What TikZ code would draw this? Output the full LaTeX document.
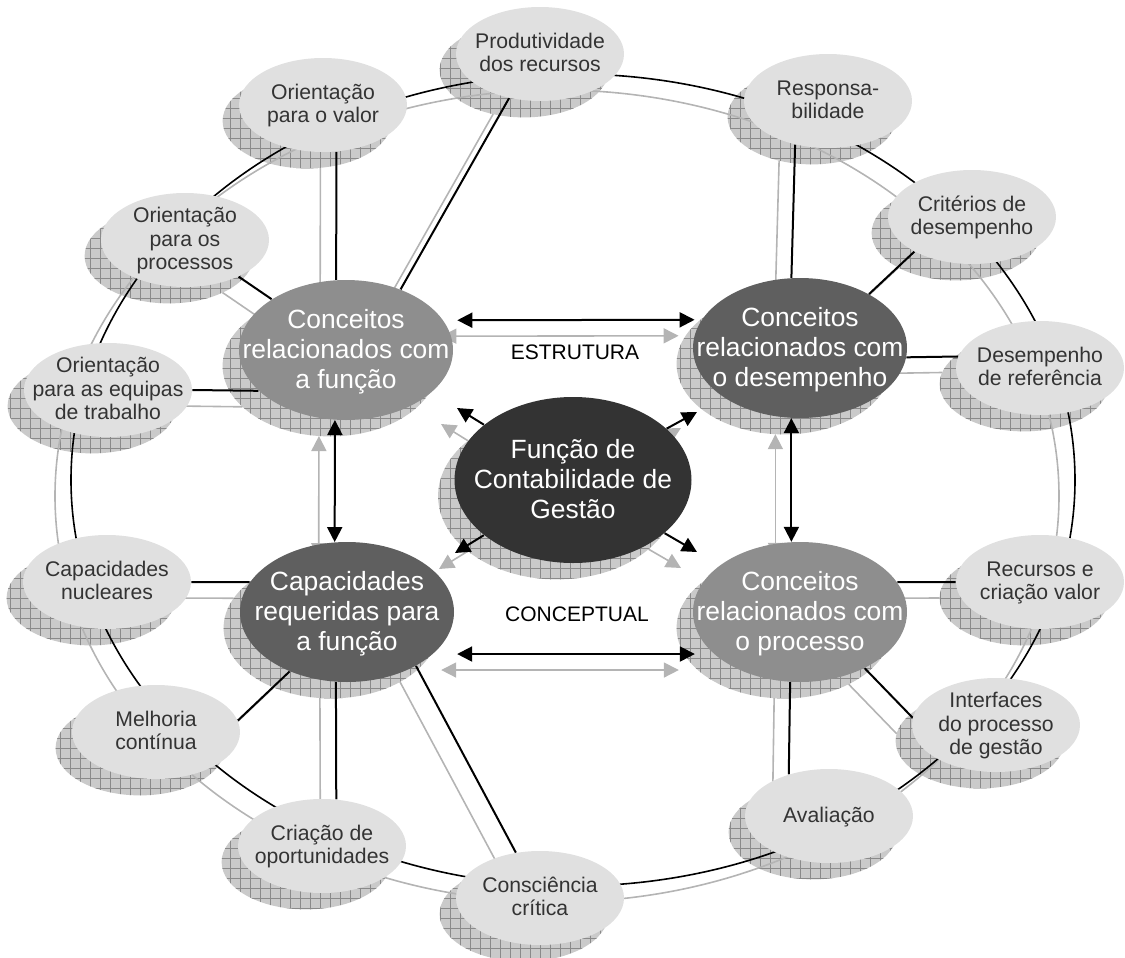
\documentclass[tikz,border=0pt]{standalone}
\usepackage{fontspec}
\setmainfont{Liberation Sans}
\usetikzlibrary{shapes.geometric,arrows.meta,calc,patterns.meta}
\definecolor{bubblegray}{HTML}{E0E0E0}
\definecolor{hubmid}{HTML}{8E8E8E}
\definecolor{hubdark}{HTML}{5F5F5F}
\definecolor{corefill}{HTML}{333333}
\definecolor{inkgray}{HTML}{333333}
\definecolor{ghostgray}{HTML}{B4B4B4}
\definecolor{shadefill}{HTML}{CACACA}
\definecolor{shadegrid}{HTML}{8A8A8A}
\pgfdeclarelayer{shade}
\pgfdeclarelayer{wire}
\pgfsetlayers{shade,wire,main}
\newcommand{\bubtxt}[1]{\makebox[0pt]{\raisebox{-0.33em}[0pt][0pt]{\begin{tabular}{@{}c@{}}#1\end{tabular}}}}
\tikzset{
  bubble/.style={ellipse, inner sep=0pt, minimum width=84pt, minimum height=47pt, fill=bubblegray, text=inkgray, font=\fontsize{10.6}{11.7}\selectfont},
  hub/.style={ellipse, inner sep=0pt, minimum width=107pt, minimum height=70pt, text=white, font=\fontsize{13.2}{15}\selectfont},
  core/.style={hub, minimum width=118.5pt, minimum height=83pt, fill=corefill},
  tag/.style={inner sep=0pt, font=\fontsize{10.5}{12}\selectfont},
  link/.style={line width=1pt},
  ghost/.style={transform canvas={xshift=-8pt, yshift=-8pt}, draw=ghostgray, line width=0.8pt},
  shadowdisc/.style={transform canvas={xshift=-8pt, yshift=-8pt}, fill=shadefill, postaction={pattern={Hatch[angle=0, distance=5pt, line width=0.35pt]}, pattern color=shadegrid}}
}
\begin{document}
\begin{tikzpicture}[x=0.5pt, y=-0.5pt, >={Triangle[length=7.5pt, width=7.5pt]}]
  \useasboundingbox (0,0) rectangle (1125,958);

  \node[hub, fill=hubmid] (funcao) at (346,350) {\bubtxt{Conceitos\\relacionados com\\a função}};
  \node[hub, fill=hubdark] (desempenho) at (800,348) {\bubtxt{Conceitos\\relacionados com\\o desempenho}};
  \node[hub, fill=hubdark] (capacidades) at (347,612) {\bubtxt{Capacidades\\requeridas para\\a função}};
  \node[hub, fill=hubmid] (processo) at (800,612) {\bubtxt{Conceitos\\relacionados com\\o processo}};
  \node[core] (contab) at (573,480) {\bubtxt{Função de\\Contabilidade de\\Gestão}};

  \node[bubble] (produtiv) at (540,54) {\bubtxt{Produtividade\\dos recursos}};
  \node[bubble] (valor) at (323,105) {\bubtxt{Orientação\\para o valor}};
  \node[bubble] (processos) at (185,240) {\bubtxt{Orientação\\para os\\processos}};
  \node[bubble] (equipas) at (108,390) {\bubtxt{Orientação\\para as equipas\\de trabalho}};
  \node[bubble] (nucleares) at (107,582) {\bubtxt{Capacidades\\nucleares}};
  \node[bubble] (melhoria) at (156,732) {\bubtxt{Melhoria\\contínua}};
  \node[bubble] (criacao) at (322,846) {\bubtxt{Criação de\\oportunidades}};
  \node[bubble] (consciencia) at (540,898) {\bubtxt{Consciência\\crítica}};
  \node[bubble] (avaliacao) at (829,816) {\bubtxt{Avaliação}};
  \node[bubble] (interfaces) at (996,725) {\bubtxt{Interfaces\\do processo\\de gestão}};
  \node[bubble] (recursos) at (1040,582) {\bubtxt{Recursos e\\criação valor}};
  \node[bubble] (referencia) at (1040,368) {\bubtxt{Desempenho\\de referência}};
  \node[bubble] (criterios) at (972,217) {\bubtxt{Critérios de\\desempenho}};
  \node[bubble] (respons) at (828,101) {\bubtxt{Responsa-\\bilidade}};

  \node[tag] (estrutura) at (575,352) {ESTRUTURA};
  \node[tag] (conceptual) at (577,614) {CONCEPTUAL};

  \coordinate (nw) at (457,408);
  \coordinate (ne) at (697,412);
  \coordinate (sw) at (455,553);
  \coordinate (se) at (697,552);

  \begin{pgfonlayer}{shade}
    \foreach \k in {funcao,desempenho,capacidades,processo,contab,produtiv,valor,processos,equipas,nucleares,melhoria,criacao,consciencia,avaliacao,interfaces,recursos,referencia,criterios,respons}
      \path[shadowdisc] let \p1=($(\k.east)-(\k.center)$), \p2=($(\k.north)-(\k.center)$) in (\k.center) ellipse [x radius=\x1, y radius=\y2];
    \foreach \a/\b in {valor.-74/funcao.98, produtiv.-125/funcao.48, processos/funcao, equipas.east/funcao.-155, respons.-127/desempenho.97, criterios.-149/desempenho.38, referencia.172/desempenho.-5, recursos.west/processo.17, interfaces.175/processo.-41, avaliacao.134/processo.-98, nucleares.east/capacidades.163, melhoria.8/capacidades.-134, criacao.73/capacidades.-99, consciencia.118/capacidades.-38}
      \draw[ghost] (\a) -- (\b);
    \draw[ghost, <->, shorten <=7pt, shorten >=3.5pt] (funcao.17) -- (desempenho.164);
    \draw[ghost, <->, shorten <=12pt, shorten >=9.5pt] (capacidades.-26) -- (processo.-154);
    \draw[ghost, <->] (funcao.-99) -- (capacidades.100);
    \draw[ghost, <->] (desempenho.-97) -- (processo.97);
    \foreach \c in {nw,ne,sw,se}
      \draw[ghost, ->] (contab) -- (\c);
  \end{pgfonlayer}

  \begin{pgfonlayer}{wire}
    \draw[ghost] (contab.center) ellipse [x radius=251pt, y radius=203pt];
    \draw[line width=0.8pt] (contab.center) ellipse [x radius=251pt, y radius=203pt];
    \foreach \a/\b in {valor.-74/funcao.98, produtiv.-125/funcao.48, processos/funcao, equipas.east/funcao.-155, respons.-127/desempenho.97, criterios.-149/desempenho.38, referencia.172/desempenho.-5, recursos.west/processo.17, interfaces.175/processo.-41, avaliacao.134/processo.-98, nucleares.east/capacidades.163, melhoria.8/capacidades.-134, criacao.73/capacidades.-99, consciencia.118/capacidades.-38}
      \draw[link] (\a) -- (\b);
    \draw[link, <->, shorten <=7pt, shorten >=3.5pt] (funcao.17) -- (desempenho.164);
    \draw[link, <->, shorten <=12pt, shorten >=9.5pt] (capacidades.-26) -- (processo.-154);
    \draw[link, <->] (funcao.-99) -- (capacidades.100);
    \draw[link, <->] (desempenho.-97) -- (processo.97);
    \foreach \c in {nw,ne,sw,se}
      \draw[link, ->] (contab) -- (\c);
  \end{pgfonlayer}
\end{tikzpicture}
\end{document}
